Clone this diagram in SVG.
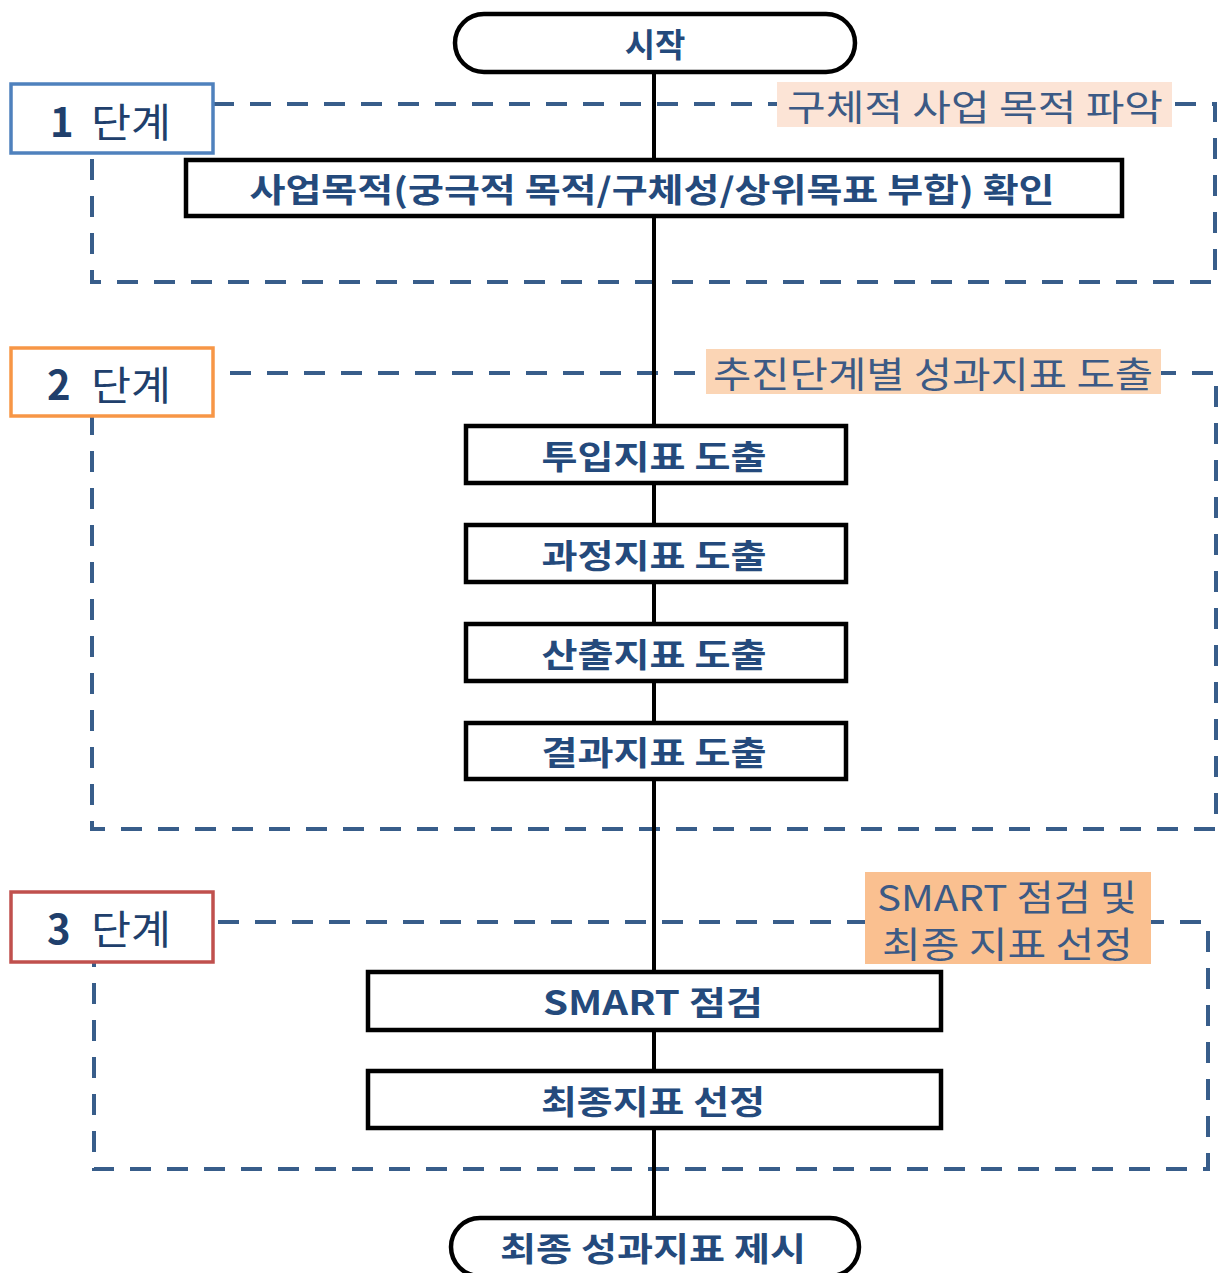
<svg xmlns="http://www.w3.org/2000/svg" width="1219" height="1273" viewBox="0 0 1219 1273">
<style>
.frame{fill:none;stroke:#385d8a;stroke-width:4;stroke-dasharray:21 16}
.conn{stroke:#000;stroke-width:4;fill:none}
.box{fill:#fff;stroke:#000;stroke-width:4.5}
.t{font-family:"Noto Sans CJK KR","Noto Sans",sans-serif;font-weight:bold;fill:#244a7c;font-size:33px;text-anchor:middle;dominant-baseline:central}
.stg{font-family:"Noto Sans CJK KR","Noto Sans",sans-serif;fill:#203f6c;font-size:40px;dominant-baseline:central}
.lbl{font-family:"Noto Sans CJK KR","Noto Sans",sans-serif;fill:#3c5a85;font-size:36px;dominant-baseline:central}
</style>
<rect width="1219" height="1273" fill="#fff"/>
<g id="frames">
<path class="frame" d="M213,104 H1215 V282 H92 V153"/>
<path class="frame" d="M230,373 H1216 V829 H92 V416"/>
<path class="frame" d="M218,922 H1208 V1169 H94 V962"/>
</g>
<g id="connectors">
<line class="conn" x1="654" y1="72" x2="654" y2="160"/>
<line class="conn" x1="654" y1="216" x2="654" y2="426"/>
<line class="conn" x1="654" y1="483" x2="654" y2="525"/>
<line class="conn" x1="654" y1="582" x2="654" y2="624"/>
<line class="conn" x1="654" y1="681" x2="654" y2="723"/>
<line class="conn" x1="654" y1="779" x2="654" y2="972"/>
<line class="conn" x1="654" y1="1030" x2="654" y2="1071"/>
<line class="conn" x1="654" y1="1128" x2="654" y2="1218"/>
</g>
<g id="stage1">
<rect x="11" y="84" width="202" height="69" fill="#fff" stroke="#4f81bd" stroke-width="3.5"/>
<text class="stg" y="120"><tspan x="50" font-weight="bold">1</tspan><tspan x="91" textLength="80" lengthAdjust="spacingAndGlyphs">단계</tspan></text>
</g>
<g id="note1">
<rect x="777" y="82" width="395" height="45" fill="#fce4d6"/>
<text class="lbl" x="787" y="105" textLength="376" lengthAdjust="spacingAndGlyphs">구체적 사업 목적 파악</text>
</g>
<g id="stage2">
<rect x="11" y="348" width="202" height="68" fill="#fff" stroke="#f79646" stroke-width="3.5"/>
<text class="stg" y="383"><tspan x="47" font-weight="bold">2</tspan><tspan x="91" textLength="80" lengthAdjust="spacingAndGlyphs">단계</tspan></text>
</g>
<g id="note2">
<rect x="706" y="349" width="455" height="45" fill="#fbd5b5"/>
<text class="lbl" x="713" y="372" font-size="38" textLength="440" lengthAdjust="spacingAndGlyphs">추진단계별 성과지표 도출</text>
</g>
<g id="stage3">
<rect x="11" y="892" width="202" height="70" fill="#fff" stroke="#c0504d" stroke-width="3.5"/>
<text class="stg" y="927"><tspan x="47" font-weight="bold">3</tspan><tspan x="91" textLength="80" lengthAdjust="spacingAndGlyphs">단계</tspan></text>
</g>
<g id="note3">
<rect x="865" y="872" width="286" height="92" fill="#fac090"/>
<text class="lbl" x="877" y="895" font-size="31" textLength="260" lengthAdjust="spacingAndGlyphs">SMART 점검 및</text>
<text class="lbl" x="882" y="942" font-size="31" textLength="251" lengthAdjust="spacingAndGlyphs">최종 지표 선정</text>
</g>
<g id="start">
<rect class="box" x="455" y="14" width="400" height="58" rx="29"/>
<text class="t" x="655" y="43">시작</text>
</g>
<g id="purpose">
<rect class="box" x="186" y="160" width="936" height="56"/>
<text class="t" x="652" y="188" textLength="805" lengthAdjust="spacingAndGlyphs">사업목적(궁극적 목적/구체성/상위목표 부합) 확인</text>
</g>
<g id="input">
<rect class="box" x="466" y="426" width="380" height="57"/>
<text class="t" x="654" y="455" textLength="225" lengthAdjust="spacingAndGlyphs">투입지표 도출</text>
</g>
<g id="process">
<rect class="box" x="466" y="525" width="380" height="57"/>
<text class="t" x="654" y="554" textLength="225" lengthAdjust="spacingAndGlyphs">과정지표 도출</text>
</g>
<g id="output">
<rect class="box" x="466" y="624" width="380" height="57"/>
<text class="t" x="654" y="653" textLength="225" lengthAdjust="spacingAndGlyphs">산출지표 도출</text>
</g>
<g id="outcome">
<rect class="box" x="466" y="723" width="380" height="56"/>
<text class="t" x="654" y="751" textLength="225" lengthAdjust="spacingAndGlyphs">결과지표 도출</text>
</g>
<g id="smart">
<rect class="box" x="368" y="972" width="573" height="58"/>
<text class="t" x="653" y="1001" textLength="220" lengthAdjust="spacingAndGlyphs">SMART 점검</text>
</g>
<g id="final-select">
<rect class="box" x="368" y="1071" width="573" height="57"/>
<text class="t" x="653" y="1100" textLength="224" lengthAdjust="spacingAndGlyphs">최종지표 선정</text>
</g>
<g id="end">
<rect class="box" x="451" y="1218" width="408" height="58" rx="29"/>
<text class="t" x="653" y="1247" textLength="306" lengthAdjust="spacingAndGlyphs">최종 성과지표 제시</text>
</g>
</svg>
